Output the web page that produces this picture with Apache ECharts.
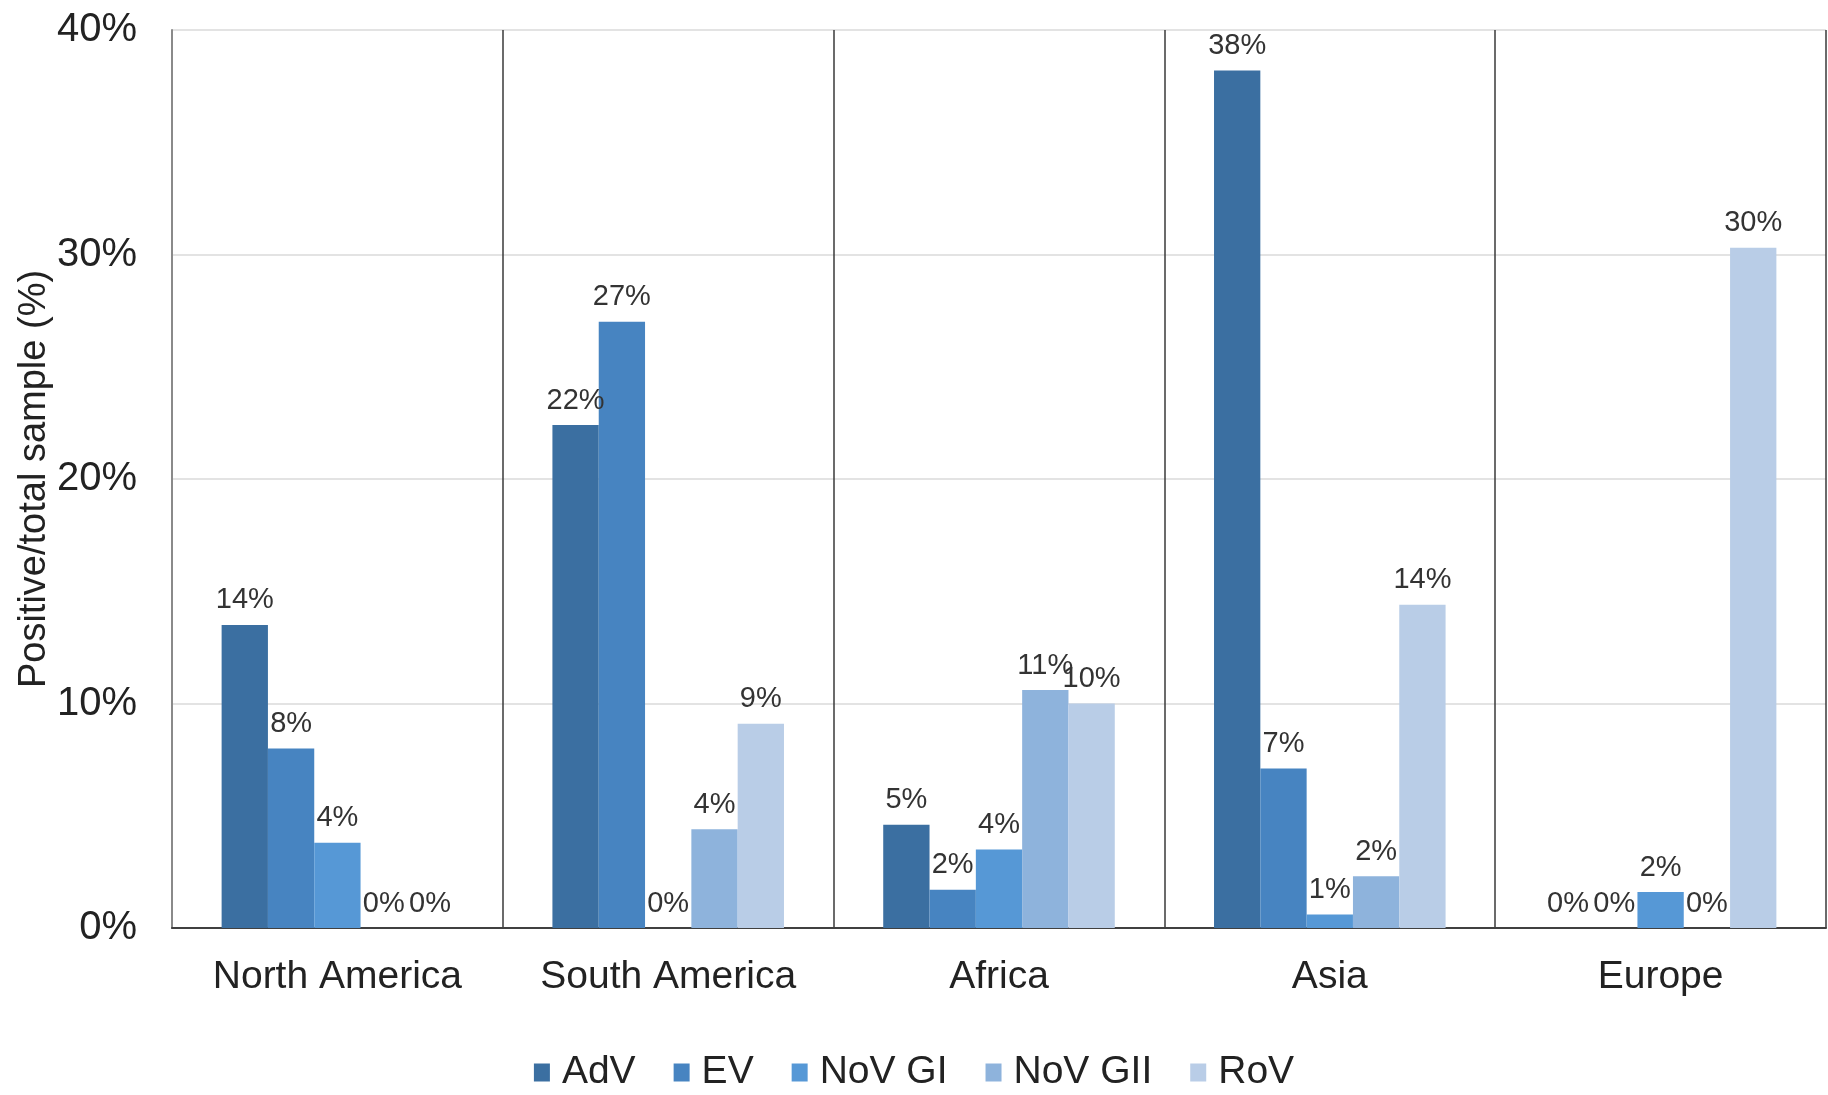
<!DOCTYPE html>
<html>
<head>
<meta charset="utf-8">
<title>Positive/total sample by region</title>
<script src="https://cdn.jsdelivr.net/npm/echarts@6/dist/echarts.min.js"></script>
<style>
  html, body { margin: 0; padding: 0; background: #ffffff; }
  #chart { width: 1828px; height: 1095px; }
</style>
</head>
<body>
<div id="chart"></div>
<script>
// Regions on the category axis
const regions = ['North America', 'South America', 'Africa', 'Asia', 'Europe'];

// Share of positive samples (%) per virus, one value per region
const adv    = [13.5, 22.4, 4.6, 38.2, 0];
const ev     = [8.0, 27.0, 1.7, 7.1, 0];
const novGI  = [3.8, 0, 3.5, 0.6, 1.6];
const novGII = [0, 4.4, 10.6, 2.3, 0];
const rov    = [0, 9.1, 10.0, 14.4, 30.3];

// Y-axis ticks
const yTicks = [0, 10, 20, 30, 40];

const seriesDefs = [
  { name: 'AdV',     data: adv,    color: '#3b6fa1' },
  { name: 'EV',      data: ev,     color: '#4784c1' },
  { name: 'NoV GI',  data: novGI,  color: '#5698d6' },
  { name: 'NoV GII', data: novGII, color: '#8eb3dc' },
  { name: 'RoV',     data: rov,    color: '#b9cde7' }
];

const FONT = '"Liberation Sans", Arial, sans-serif';

const chart = echarts.init(document.getElementById('chart'), null, { renderer: 'canvas' });

chart.setOption({
  backgroundColor: '#ffffff',
  animation: false,
  textStyle: { fontFamily: FONT },
  grid: { left: 172, right: 2, top: 30, bottom: 167, containLabel: false },
  legend: {
    data: seriesDefs.map(s => s.name),
    left: 'center',
    top: 1048,
    icon: 'rect',
    itemWidth: 16,
    itemHeight: 18,
    itemGap: 38,
    textStyle: { fontFamily: FONT, fontSize: 39, color: '#222222', padding: [0, 0, 0, 7] }
  },
  xAxis: {
    type: 'category',
    data: regions,
    boundaryGap: true,
    axisLine: { show: true, lineStyle: { color: '#404040', width: 2 } },
    axisTick: { show: false },
    axisLabel: { interval: 0, fontFamily: FONT, fontSize: 39, color: '#222222', margin: 30 },
    splitLine: { show: true, interval: 0, lineStyle: { color: '#3a3a3a', width: 1.5 } }
  },
  yAxis: {
    type: 'value',
    min: yTicks[0],
    max: yTicks[yTicks.length - 1],
    interval: 10,
    name: 'Positive/total sample (%)',
    nameLocation: 'middle',
    nameGap: 118,
    nameMoveOverlap: false,
    nameRotate: 90,
    nameTextStyle: { fontFamily: FONT, fontSize: 38, color: '#222222' },
    axisLine: { show: true, lineStyle: { color: '#8a8a8a', width: 2 } },
    axisTick: { show: false },
    axisLabel: { fontFamily: FONT, fontSize: 40, color: '#222222', margin: 35, formatter: '{value}%' },
    splitLine: { show: true, lineStyle: { color: '#e3e3e3', width: 2 } }
  },
  series: seriesDefs.map(s => ({
    name: s.name,
    type: 'bar',
    data: s.data,
    barGap: '0%',
    barCategoryGap: '30%',
    itemStyle: { color: s.color },
    label: {
      show: true,
      position: 'top',
      distance: 10,
      fontFamily: FONT,
      fontSize: 29,
      color: '#333333',
      formatter: p => Math.round(p.value) + '%'
    }
  }))
});
</script>
</body>
</html>
